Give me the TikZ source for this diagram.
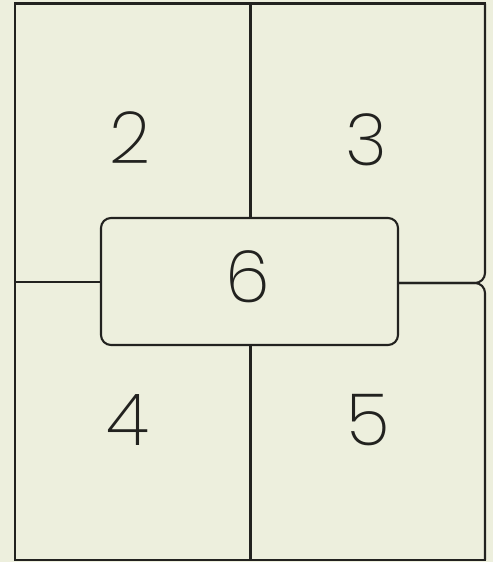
\documentclass[tikz,border=0pt]{standalone}
\usepackage{fontspec}
\setmainfont{Poppins ExtraLight}
\definecolor{paper}{HTML}{EDEFDD}
\definecolor{ink}{HTML}{22221F}
\begin{document}
\begin{tikzpicture}[x=1pt,y=-1pt,
  frame/.style={draw=ink,line width=2.1pt},
  digit/.style={text=ink,font=\fontsize{72}{72}\selectfont,inner sep=0pt},
  centerbox/.style={draw=ink,line width=2.1pt,rounded corners=10pt,
    minimum width=297pt,minimum height=127pt,inner sep=0pt}]
\fill[paper] (0,0) rectangle (493,562);
\useasboundingbox (0,0) rectangle (493,562);
% frame corners
\coordinate (tl) at (15,3.5);
\coordinate (bl) at (15,560);
\coordinate (tr) at (485,3.5);
\coordinate (br) at (485,560);
\coordinate (tm) at (250.5,3.5);
\coordinate (bm) at (250.5,560);
\coordinate (lm) at (15,282);
\coordinate (rm) at (485,283);
% center box
\node[centerbox] (six) at (249.5,281.5) {};
% outer frame
\draw[frame,line cap=rect] (br) -- (bl) -- (tl) -- (tr);
\draw[frame,rounded corners=10pt] (tr) |- (six.east |- rm);
\draw[frame,rounded corners=10pt] (six.east |- rm) -| (br);
% dividers
\draw[frame] (tm) -- (tm |- six.north);
\draw[frame] (bm) -- (bm |- six.south);
\draw[frame] (lm) -- (lm -| six.west);
% labels
\node[digit] (n2) at (130,138) {2};
\node[digit] (n3) at (366,140) {3};
\node[digit] (n6) at (248,277) {6};
\node[digit] (n4) at (128,420) {4};
\node[digit] (n5) at (368,420) {5};
\end{tikzpicture}
\end{document}
